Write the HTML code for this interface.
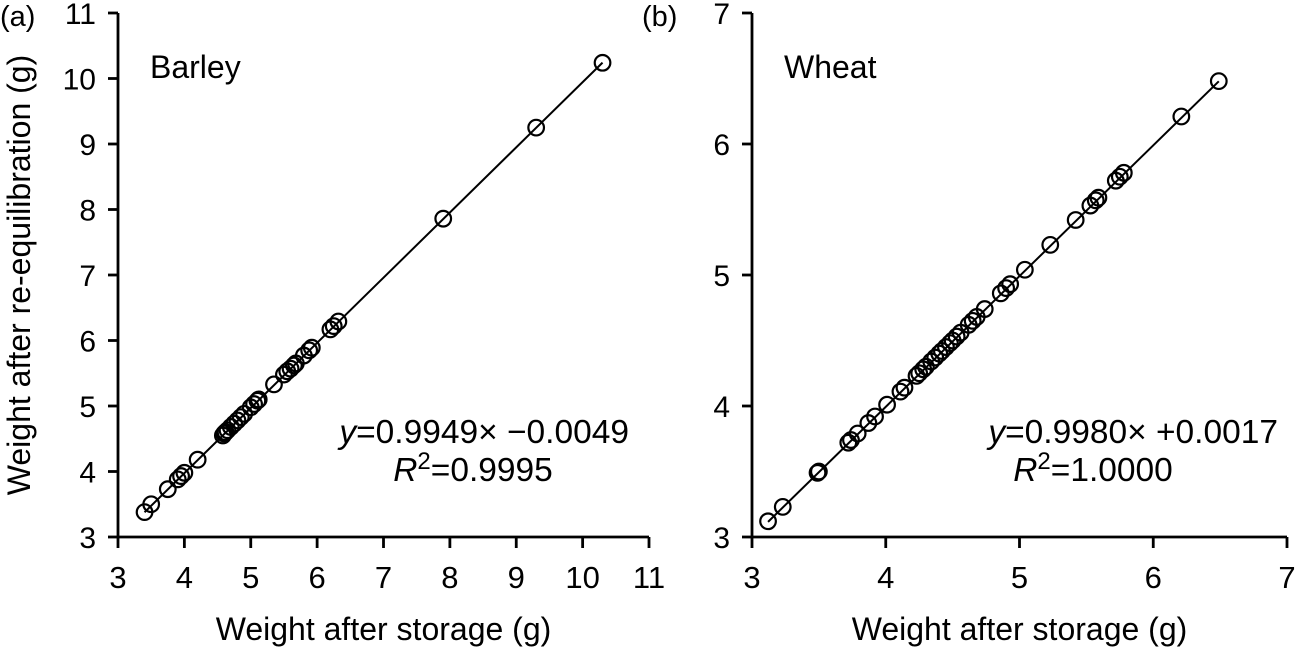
<!DOCTYPE html>
<html><head><meta charset="utf-8"><style>
html,body{margin:0;padding:0;background:#fff;}
svg{display:block;font-family:"Liberation Sans",Arial,sans-serif;}
</style></head><body>
<svg id="chart" width="1301" height="648" viewBox="0 0 1301 648"></svg>
<script>
const barleyX=[3.4,3.5,3.75,3.9,3.95,4.0,4.2,4.58,4.6,4.62,4.65,4.7,4.75,4.8,4.85,4.9,5.0,5.05,5.1,5.12,5.35,5.5,5.55,5.6,5.65,5.68,5.8,5.88,5.92,6.2,6.25,6.32,7.9,9.3,10.3];
const barleyY=[3.38,3.5,3.73,3.88,3.93,3.98,4.18,4.55,4.58,4.6,4.63,4.68,4.73,4.78,4.83,4.88,4.98,5.03,5.08,5.1,5.33,5.48,5.53,5.57,5.62,5.65,5.77,5.85,5.89,6.17,6.22,6.29,7.86,9.25,10.24];
const wheatX=[3.12,3.23,3.49,3.5,3.72,3.74,3.79,3.87,3.92,4.01,4.11,4.14,4.23,4.25,4.28,4.3,4.34,4.37,4.4,4.42,4.45,4.48,4.5,4.53,4.56,4.62,4.65,4.68,4.74,4.86,4.9,4.93,5.04,5.23,5.42,5.53,5.57,5.59,5.72,5.75,5.78,6.21,6.49];
const wheatY=[3.12,3.23,3.49,3.5,3.72,3.74,3.79,3.87,3.92,4.01,4.11,4.14,4.23,4.25,4.28,4.3,4.34,4.37,4.4,4.42,4.45,4.48,4.5,4.53,4.56,4.62,4.65,4.68,4.74,4.86,4.9,4.93,5.04,5.23,5.42,5.53,5.57,5.59,5.72,5.75,5.78,6.21,6.48];
const barleyTicks=[3,4,5,6,7,8,9,10,11];
const wheatTicks=[3,4,5,6,7];
const barleyFit=[0.9949,-0.0049];
const wheatFit=[0.9980,0.0017];

const NS="http://www.w3.org/2000/svg";
const svg=document.getElementById('chart');
function mk(tag,attrs,parent){const e=document.createElementNS(NS,tag);for(const k in attrs)e.setAttribute(k,attrs[k]);(parent||svg).appendChild(e);return e;}

function panel(cfg){
  const g=mk('g',{});
  
  
  const {x0,x1,y0,y1,min,max}=cfg;
  const sx=v=>x0+(v-min)/(max-min)*(x1-x0);
  const sy=v=>y0-(v-min)/(max-min)*(y0-y1);
  const ax=mk('path',{d:`M${x0},${y1}V${y0}H${x1}`,stroke:'#000','stroke-width':2.8,fill:'none'},g);
  
  
  cfg.ticks.forEach(t=>{
    mk('line',{x1:sx(t),x2:sx(t),y1:y0,y2:y0+11,stroke:'#000','stroke-width':2.8},g);
    const tx=mk('text',{x:sx(t),y:588,'font-size':31,'text-anchor':'middle'},g);tx.textContent=t;
    
    
    mk('line',{x1:x0-10,x2:x0,y1:sy(t),y2:sy(t),stroke:'#000','stroke-width':2.8},g);
    const ty=mk('text',{x:x0-22,y:sy(t)+11,'font-size':30,'text-anchor':'end'},g);ty.textContent=t;
    
    
  });
  const fx0=Math.min(...cfg.xs),fx1=Math.max(...cfg.xs);
  const fl=mk('line',{x1:sx(fx0),y1:sy(cfg.fit[0]*fx0+cfg.fit[1]),x2:sx(fx1),y2:sy(cfg.fit[0]*fx1+cfg.fit[1]),stroke:'#000','stroke-width':2},g);
  
  
  cfg.xs.forEach((v,i)=>{
    const c=mk('circle',{cx:sx(v),cy:sy(cfg.ys[i]),r:7.8,fill:'none',stroke:'#000','stroke-width':2.2},g);
    
    
  });
  const tl=mk('text',{x:x0+32,y:78,'font-size':32},g);tl.textContent=cfg.title;
  
  
  const xl=mk('text',{x:(x0+x1)/2,y:640,'font-size':32,'text-anchor':'middle'},g);xl.textContent='Weight after storage (g)';
  
  
  const pl=mk('text',{x:cfg.labX,y:26,'font-size':29},g);pl.textContent=cfg.lab;
  
  
  const eq=mk('text',{x:cfg.eqX,y:443,'font-size':33.5,'text-anchor':'end'},g);
  eq.innerHTML='<tspan font-style="italic">y</tspan>='+cfg.eq;
  
  
  const r2=mk('text',{x:cfg.r2X,y:481,'font-size':33.5,'text-anchor':'middle'},g);
  r2.innerHTML='<tspan font-style="italic">R</tspan><tspan dy="-12" font-size="24">2</tspan><tspan dy="12">='+cfg.r2+'</tspan>';
  
  
}
panel({name:'barley',title:'Barley',lab:'(a)',labX:0,x0:118,x1:649,y0:537,y1:13,min:3,max:11,ticks:barleyTicks,xs:barleyX,ys:barleyY,fit:barleyFit,eqX:629,eq:'0.9949× −0.0049',r2X:473,r2:'0.9995'});
panel({name:'wheat',title:'Wheat',lab:'(b)',labX:642,x0:752,x1:1287,y0:537,y1:13,min:3,max:7,ticks:wheatTicks,xs:wheatX,ys:wheatY,fit:wheatFit,eqX:1278,eq:'0.9980× +0.0017',r2X:1093,r2:'1.0000'});
const yl=mk('text',{x:0,y:0,'font-size':32,'text-anchor':'middle',transform:'translate(30,275) rotate(-90)'});
yl.textContent='Weight after re-equilibration (g)';


</script>
</body></html>
